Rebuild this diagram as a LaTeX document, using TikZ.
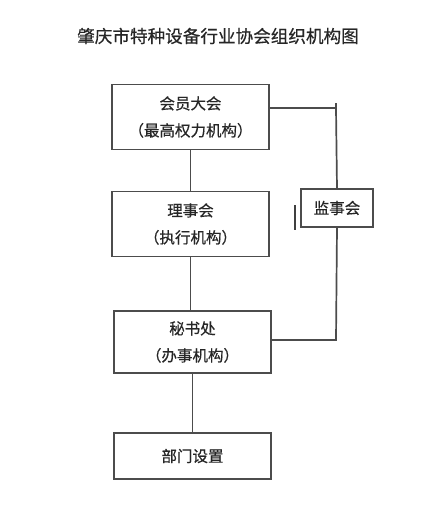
\documentclass[tikz,border=0pt]{standalone}
\usepackage{fontspec}
\newfontfamily\cjk[FakeBold=0.5]{Noto Sans CJK SC}
\usetikzlibrary{positioning}

\begin{document}
\begin{tikzpicture}[x=1pt, y=-1pt,
    org/.style={rectangle, draw=black!70, line width=1.7pt, fill=white, minimum width=157pt, align=center, text=black!85, font=\cjk\fontsize{15.5}{27}\selectfont},
    link/.style={draw=black!70, line width=1.7pt}]
    \useasboundingbox (0,0) rectangle (424,509);
    \node[font=\cjk\fontsize{17.6}{20}\selectfont, text=black!85] (title) at (218,36) {肇庆市特种设备行业协会组织机构图};
    % main chain
    \node[org, minimum height=65pt] (dahui) at (190.5,117) {会员大会\\（最高权力机构）};
    \node[org, minimum height=65pt] (lishi) at (190.5,224) {理事会\\（执行机构）};
    \node[org, minimum height=62pt] (mishu) at (192.5,342) {秘书处\\（办事机构）};
    \node[org, minimum height=46pt] (bumen) at (192.5,456) {部门设置};
    \node[org, minimum width=72pt, minimum height=38pt] (jianshi) at (337,208) {监事会};
    \draw[link] (dahui.south) -- (dahui.south |- lishi.north);
    \draw[link] (lishi.south) -- (lishi.south |- mishu.north);
    \draw[link] (mishu.south) -- (mishu.south |- bumen.north);
    % supervision
    \coordinate (jtop) at (336,108);
    \coordinate (jbot) at (336,340);
    \draw[link] (dahui.east |- jtop) -- (jtop) -- (jianshi.north);
    \draw[link] (jtop) -- ++(0,-5);
    \draw[link] (jianshi.south) -- (jbot) -- (mishu.east |- jbot);
    \draw[black!75, line width=2.4pt] (295,205) -- (295,230);
\end{tikzpicture}
\end{document}
